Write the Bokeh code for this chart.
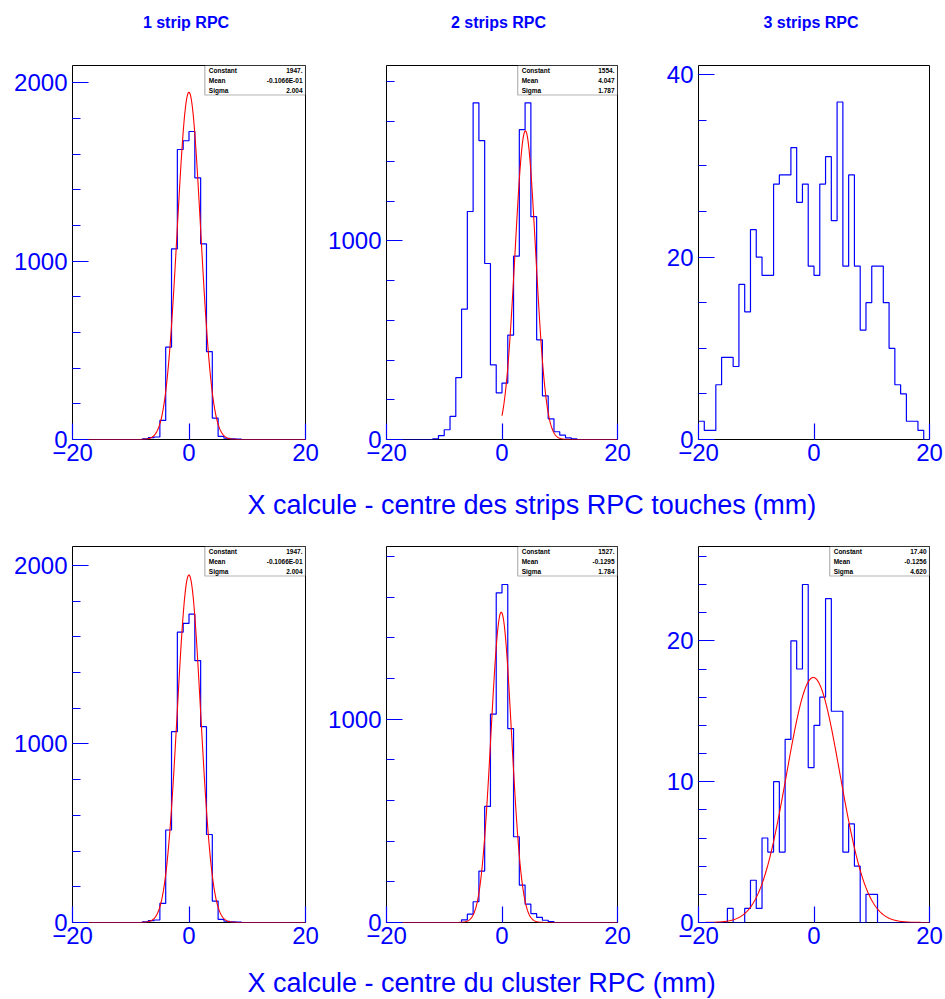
import numpy as np
from bokeh.plotting import figure
from bokeh.models import Range1d, FixedTicker, Label, BoxAnnotation
from bokeh.layouts import column, row
from bokeh.embed import file_html
from bokeh.resources import INLINE

# ---------------- data ----------------
BIN_EDGES = list(range(-20, 21))          # 1 mm bins from -20 to 20
X_TICKS = [-20, 0, 20]

COL_TITLES = ["1 strip RPC", "2 strips RPC", "3 strips RPC"]
XLABEL_TOP = "X calcule - centre des strips RPC touches (mm)"
XLABEL_BOTTOM = "X calcule - centre du cluster RPC (mm)"

# top row : X calcule - centre des strips touches
top_1strip = [0, 0, 0, 0, 0, 0, 0, 0, 0, 0,
              0, 0, 3, 10, 14, 107, 518, 1069, 1626, 1675,
              1727, 1467, 1097, 493, 120, 17, 7, 4, 2, 0,
              0, 0, 0, 0, 0, 0, 0, 0, 0, 0]
top_2strips = [0, 0, 0, 0, 0, 0, 0, 0, 3, 20,
               49, 116, 312, 656, 1148, 1695, 1505, 886, 376, 235,
               284, 525, 923, 1560, 1695, 1122, 502, 220, 104, 39,
               22, 8, 3, 0, 0, 0, 0, 0, 0, 0]
top_3strips = [2, 1, 1, 6, 9, 9, 8, 17, 14, 23,
               20, 18, 18, 28, 29, 29, 32, 26, 28, 19,
               18, 28, 31, 24, 37, 19, 29, 19, 12, 15,
               19, 19, 15, 10, 6, 5, 2, 2, 1, 0]
# bottom row : X calcule - centre du cluster
bot_1strip = list(top_1strip)
bot_2strips = [0, 0, 0, 0, 0, 0, 0, 0, 0, 0,
               0, 0, 0, 13, 41, 102, 253, 571, 1025, 1622,
               1663, 954, 422, 184, 90, 44, 25, 11, 5, 0,
               0, 0, 0, 0, 0, 0, 0, 0, 0, 0]
bot_3strips = [0, 0, 0, 0, 0, 1, 0, 0, 1, 3,
               1, 6, 5, 10, 5, 13, 20, 18, 24, 11,
               14, 16, 23, 15, 15, 5, 7, 4, 0, 2,
               2, 0, 0, 0, 0, 0, 0, 0, 0, 0]

# y axis maxima and ticks
Y_MAX = [2097, 1883, 41, 2106, 1850, 26.7]
Y_MAJOR = [[0, 1000, 2000], [0, 1000], [0, 20, 40],
           [0, 1000, 2000], [0, 1000], [0, 10, 20]]
Y_MINOR_STEP = [200, 200, 5, 200, 200, 2]

# gaussian fits: (constant, mean, sigma, fit_from, fit_to, texts)
FIT_TOP_1 = (1947.0, -0.01066, 2.004, -20, 20, ["1947.", "-0.1066E-01", "2.004"])
FIT_TOP_2 = (1554.0, 4.047, 1.787, 0, 20, ["1554.", "4.047", "1.787"])
FIT_BOT_1 = (1947.0, -0.01066, 2.004, -20, 20, ["1947.", "-0.1066E-01", "2.004"])
FIT_BOT_2 = (1527.0, -0.1295, 1.784, -20, 20, ["1527.", "-0.1295", "1.784"])
FIT_BOT_3 = (17.40, -0.1256, 4.620, -20, 20, ["17.40", "-0.1256", "4.620"])
STAT_NAMES = ["Constant", "Mean", "Sigma"]

BLUE = "#0000ff"
RED = "#ff0000"
FONT = "Liberation Sans"


def panel(counts, ymax, ymajor, ystep, width, height, bl, br, bt, bb, fit=None):
    p = figure(width=width, height=height, output_backend="svg",
               toolbar_location=None, tools="",
               x_range=Range1d(-20, 20), y_range=Range1d(0, ymax),
               min_border_left=bl, min_border_right=br,
               min_border_top=bt, min_border_bottom=bb)
    p.background_fill_color = "white"
    p.border_fill_color = "white"
    p.outline_line_color = "black"
    p.outline_line_width = 1
    p.grid.visible = False

    fw = width - bl - br
    fh = height - bt - bb

    # histogram
    p.step(x=BIN_EDGES, y=counts + [counts[-1]], mode="after",
           line_color=BLUE, line_width=1.2)

    if fit is not None:
        c, m, s, lo, hi, texts = fit
        xs = np.linspace(lo, hi, 401)
        ys = c * np.exp(-0.5 * ((xs - m) / s) ** 2)
        p.line(xs, ys, line_color=RED, line_width=1.1)

        ypx = ymax / fh
        xpx = 40.0 / fw
        x0 = 20 - 0.432 * 40
        y0 = ymax - 29.5 * ypx
        p.add_layout(BoxAnnotation(left=x0, right=20, bottom=y0, top=ymax,
                                   fill_color="white", fill_alpha=1.0,
                                   line_color="black", line_width=1.2,
                                   level="overlay"))
        for k, (name, val) in enumerate(zip(STAT_NAMES, texts)):
            yy = ymax - (4.5 + 10 * k) * ypx
            p.add_layout(Label(x=x0 + 4 * xpx, y=yy, text=name,
                               text_font=FONT, text_font_size="6.5px",
                               text_font_style="bold", text_color="black",
                               text_baseline="middle", text_align="left",
                               level="overlay"))
            p.add_layout(Label(x=20 - 3 * xpx, y=yy, text=val,
                               text_font=FONT, text_font_size="6.5px",
                               text_font_style="bold", text_color="black",
                               text_baseline="middle", text_align="right",
                               level="overlay"))

    # axes
    minors = list(np.arange(0, ymax, ystep))
    p.yaxis.ticker = FixedTicker(ticks=ymajor, minor_ticks=minors)
    p.xaxis.ticker = FixedTicker(ticks=X_TICKS, minor_ticks=[])
    p.xaxis.major_label_overrides = {-20: "\u221220"}
    for ax in (p.xaxis[0], p.yaxis[0]):
        ax.axis_line_color = None
        ax.major_tick_in = 16
        ax.major_tick_out = 0
        ax.minor_tick_in = 8
        ax.minor_tick_out = 0
        ax.major_tick_line_color = BLUE
        ax.minor_tick_line_color = BLUE
        ax.major_tick_line_width = 1.2
        ax.minor_tick_line_width = 1.2
        ax.major_label_text_color = BLUE
        ax.major_label_text_font = FONT
        ax.major_label_text_font_size = "24px"
        ax.major_label_standoff = 5
    p.xaxis.minor_tick_line_color = None
    p.xaxis.major_label_standoff = 4
    return p


def strip(texts, xs, width, height, y, size, bold, align):
    p = figure(width=width, height=height, output_backend="svg",
               toolbar_location=None, tools="",
               x_range=Range1d(0, width), y_range=Range1d(0, height),
               x_axis_type=None, y_axis_type=None,
               min_border_left=0, min_border_right=0,
               min_border_top=0, min_border_bottom=0)
    p.outline_line_color = None
    for t, x in zip(texts, xs):
        p.add_layout(Label(x=x, y=y, text=t, text_font=FONT,
                           text_font_size=size, text_color=BLUE,
                           text_font_style="bold" if bold else "normal",
                           text_baseline="middle", text_align=align))
    return p


# layout geometry (px): columns (width, border_left, border_right)
COLS = [(325, 72, 20), (335, 60, 43), (284, 38, 15)]
ROW1 = (438, 21, 43)   # height, border_top, border_bottom
ROW2 = (436, 18, 42)

tops = [top_1strip, top_2strips, top_3strips]
bots = [bot_1strip, bot_2strips, bot_3strips]
top_fits = [FIT_TOP_1, FIT_TOP_2, None]
bot_fits = [FIT_BOT_1, FIT_BOT_2, FIT_BOT_3]

row1 = []
row2 = []
centers = []
xpos = 0
for i in range(3):
    w, bl, br = COLS[i]
    centers.append(xpos + bl + (w - bl - br) / 2.0)
    xpos += w
    h, bt, bb = ROW1
    row1.append(panel(tops[i], Y_MAX[i], Y_MAJOR[i], Y_MINOR_STEP[i],
                      w, h, bl, br, bt, bb, fit=top_fits[i]))
    h, bt, bb = ROW2
    row2.append(panel(bots[i], Y_MAX[i + 3], Y_MAJOR[i + 3], Y_MINOR_STEP[i + 3],
                      w, h, bl, br, bt, bb, fit=bot_fits[i]))

total_w = sum(c[0] for c in COLS)
head = strip(COL_TITLES, [c - 3 for c in centers], total_w, 44, 22.5, "16px", True, "center")
s1 = strip([XLABEL_TOP], [247], total_w, 46, 24, "27px", False, "left")
s2 = strip([XLABEL_BOTTOM], [247], total_w, 34, 16, "27px", False, "left")

layout = column(head, row(*row1), s1, row(*row2), s2)

with open("out.html", "w") as f:
    f.write(file_html(layout, INLINE))
